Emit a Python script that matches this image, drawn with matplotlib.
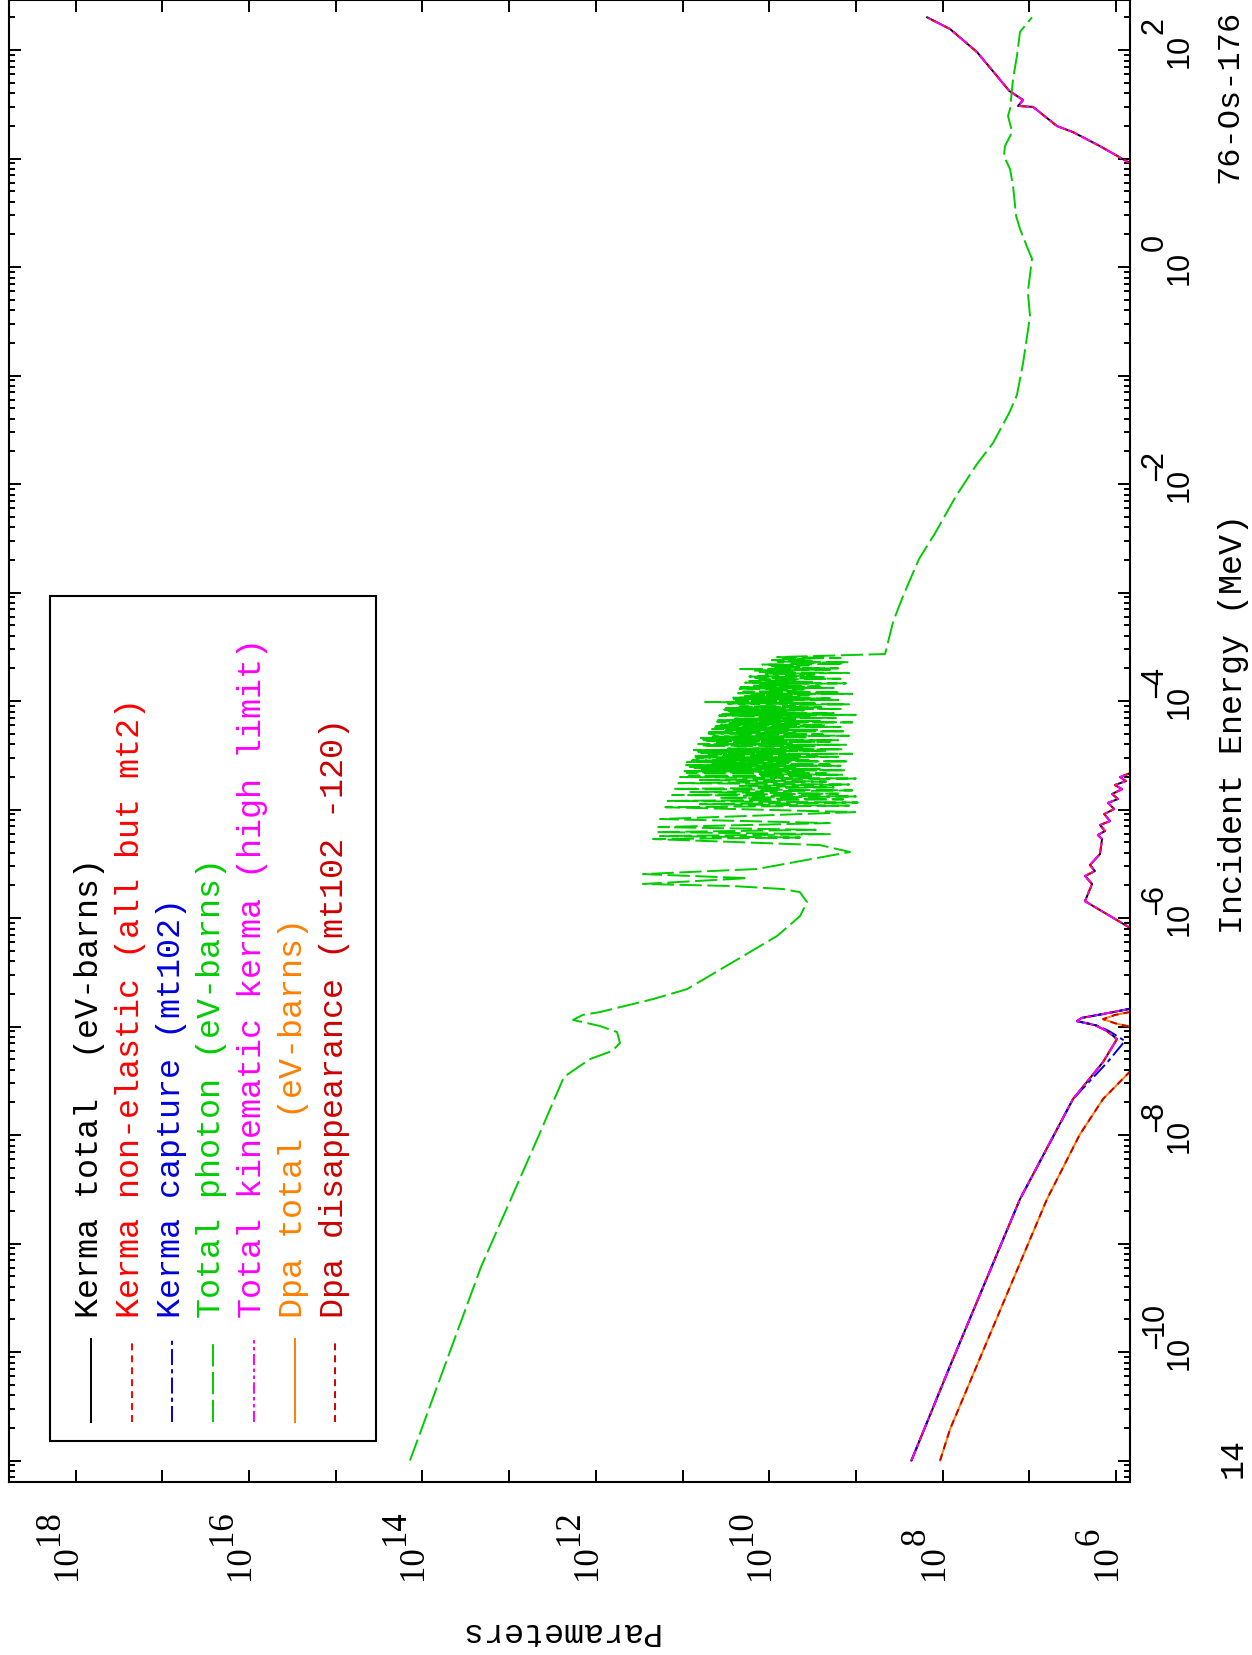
import numpy as np
import matplotlib
matplotlib.use("Agg")
import matplotlib.pyplot as plt
from matplotlib.lines import Line2D
from matplotlib.patches import Rectangle
from matplotlib.ticker import LogLocator, NullLocator

nan = np.nan

# ---- data (energy in MeV, parameter values) ----
kerma_E = [1.0e-11, 7.41e-11, 2.57e-9, 2.15e-8, 4.71e-8, 7.67e-8, 9.08e-8, 1.03e-7,
           1.12e-7, 1.20e-7, 1.32e-7, 1.52e-7, nan,
           7.13e-7, 1.43e-6, 2.06e-6, 2.44e-6, 2.71e-6, 3.08e-6, 3.89e-6, 5.35e-6,
           5.82e-6, 6.34e-6, 7.19e-6, 7.83e-6, 9.08e-6, 1.01e-5, 1.15e-5, 1.25e-5,
           1.39e-5, 1.54e-5, 1.68e-5, 1.83e-5, 1.99e-5, 2.26e-5, nan,
           8.0, 13.0, 17.5, 19.9, 29.9, 30.5, 34.6, 41.9, 57.5, 95.7, 156.0, 200.0]
kerma_total = [2.29e8, 8.22e7, 1.28e7, 3.13e6, 1.41e6, 9.75e5, 1.27e6, 1.75e6,
               2.82e6, 2.5e6, 1.3e6, 5.25e5, nan,
               5.25e5, 2.28e6, 1.89e6, 2.28e6, 1.75e6, 2.0e6, 1.53e6, 1.45e6,
               1.62e6, 1.34e6, 1.53e6, 1.17e6, 1.37e6, 1.05e6, 1.24e6, 9.5e5,
               1.11e6, 8.5e5, 1.03e6, 7.7e5, 9.0e5, 6.0e5, nan,
               5.25e5, 1.53e6, 3.13e6, 4.79e6, 9.06e6, 1.35e7, 1.18e7, 1.70e7,
               2.36e7, 4.01e7, 8.2e7, 1.51e8]

capture_E = [1.0e-11, 7.41e-11, 2.57e-9, 2.15e-8, 4.71e-8, 7.35e-8, 9.08e-8, 1.03e-7,
             1.12e-7, 1.20e-7, 1.32e-7, 1.52e-7]
capture_P = [2.29e8, 8.22e7, 1.28e7, 3.13e6, 1.25e6, 7.9e5, 1.2e6, 1.7e6,
             2.82e6, 2.5e6, 1.3e6, 5.25e5]

dpa_E = [1.0e-11, 1.95e-11, 2.57e-9, 1.02e-8, 2.15e-8, 4.81e-8, nan,
         9.48e-8, 1.07e-7, 1.17e-7, 1.28e-7, 1.42e-7]
dpa_total = [1.07e8, 8.2e7, 6.25e6, 2.6e6, 1.41e6, 5.25e5, nan,
             5.25e5, 1.02e6, 1.41e6, 1.02e6, 5.25e5]

# total photon: thermal part and first big resonances
photon_low_E = [
    1.0e-11, 6.07e-10, 1.0e-8, 3.43e-8, 5.01e-8, 5.94e-8, 7.05e-8, 8.89e-8, 1.01e-7,
    1.15e-7, 1.28e-7, 1.36e-7, 1.79e-7, 2.21e-7, 3.93e-7, 6.82e-7, 1.04e-6, 1.40e-6,
    1.73e-6, 1.85e-6, 1.97e-6, 2.06e-6, 2.33e-6, 2.54e-6, 2.83e-6, 4.06e-6, 4.70e-6,
    5.34e-6, 5.52e-6, 5.69e-6, 5.93e-6, 6.19e-6, 6.5e-6, 6.89e-6, 7.5e-6, 8.17e-6, 9.46e-6]
photon_low_P = [
    1.39e14, 2.11e13, 4.52e12, 2.33e12, 1.17e12, 6.5e11, 5.26e11, 5.69e11, 8.93e11,
    1.83e12, 1.41e12, 8.9e11, 2.19e11, 8.87e10, 2.62e10, 8.13e9, 4.42e9, 3.66e9,
    4.42e9, 6.92e9, 2.62e10, 2.86e11, 1.76e10, 2.86e11, 1.38e10, 1.17e9, 2.6e9,
    2.19e11, 4.4e9, 1.82e11, 2.0e9, 1.95e11, 2.9e9, 1.91e11, 2.0e9, 1.82e11, 1.02e9]

# total photon: dense resolved-resonance forest (peak / valley readings)
photon_res_E = [
    1.05e-5, 1.085e-5, 1.12e-5, 1.16e-5, 1.20e-5, 1.24e-5, 1.28e-5, 1.32e-5,
    1.36e-5, 1.40e-5, 1.45e-5, 1.50e-5, 1.55e-5, 1.60e-5, 1.65e-5, 1.70e-5,
    1.75e-5, 1.81e-5, 1.87e-5, 1.93e-5,
    1.99e-5, 2.02e-5, 2.05e-5, 2.09e-5,
    2.12e-5, 2.15e-5, 2.19e-5, 2.22e-5,
    2.26e-5, 2.30e-5, 2.33e-5, 2.37e-5,
    2.41e-5, 2.45e-5, 2.49e-5, 2.53e-5,
    2.57e-5, 2.61e-5, 2.65e-5, 2.69e-5,
    2.74e-5, 2.78e-5, 2.83e-5, 2.87e-5,
    2.92e-5, 2.97e-5, 3.01e-5, 3.06e-5,
    3.11e-5, 3.16e-5, 3.21e-5, 3.26e-5,
    3.31e-5, 3.36e-5, 3.42e-5, 3.47e-5,
    3.53e-5, 3.59e-5, 3.64e-5, 3.70e-5,
    3.77e-5, 3.83e-5, 3.89e-5, 3.95e-5,
    4.01e-5, 4.07e-5, 4.14e-5, 4.20e-5,
    4.28e-5, 4.35e-5, 4.42e-5, 4.49e-5,
    4.56e-5, 4.63e-5, 4.71e-5, 4.78e-5,
    4.86e-5, 4.94e-5, 5.02e-5, 5.09e-5,
    5.18e-5, 5.26e-5, 5.35e-5, 5.43e-5,
    5.51e-5, 5.60e-5, 5.69e-5, 5.77e-5,
    5.87e-5, 5.96e-5, 6.06e-5, 6.15e-5,
    6.26e-5, 6.36e-5, 6.46e-5, 6.56e-5,
    6.67e-5, 6.78e-5, 6.88e-5, 6.99e-5,
    7.11e-5, 7.22e-5, 7.34e-5, 7.45e-5,
    7.59e-5, 7.71e-5, 7.83e-5, 7.95e-5,
    8.07e-5, 8.20e-5, 8.33e-5, 8.46e-5,
    8.61e-5, 8.75e-5, 8.89e-5, 9.02e-5,
    9.18e-5, 9.33e-5, 9.47e-5, 9.62e-5,
    9.77e-5, 9.93e-5, 1.008e-4, 1.024e-4,
    1.04e-4, 1.057e-4, 1.073e-4, 1.090e-4,
    1.11e-4, 1.128e-4, 1.146e-4, 1.163e-4,
    1.18e-4, 1.199e-4, 1.218e-4, 1.237e-4,
    1.26e-4, 1.280e-4, 1.300e-4, 1.320e-4,
    1.34e-4, 1.361e-4, 1.383e-4, 1.404e-4,
    1.43e-4, 1.453e-4, 1.476e-4, 1.499e-4,
    1.53e-4, 1.554e-4, 1.579e-4, 1.603e-4,
    1.63e-4, 1.656e-4, 1.682e-4, 1.708e-4,
    1.73e-4, 1.758e-4, 1.785e-4, 1.813e-4,
    1.85e-4, 1.880e-4, 1.909e-4, 1.939e-4,
    1.97e-4, 2.002e-4, 2.033e-4, 2.065e-4,
    2.10e-4, 2.134e-4, 2.167e-4, 2.201e-4,
    2.24e-4, 2.276e-4, 2.312e-4, 2.348e-4,
    2.38e-4, 2.418e-4, 2.456e-4, 2.494e-4,
    2.54e-4]
photon_res_P = [
    1.58e11, 1.2e9, 6.31e10, 9.5e8, 1.48e11, 1.4e9, 3.72e10, 1.0e9,
    1.32e11, 1.6e9, 8.13e10, 1.1e9, 1.29e11, 1.8e9, 2.19e10, 1.2e9,
    1.12e11, 2.2e9, 6.31e10, 1.0e9,
    1.07e11, 3.0e9, 8.5e10, 1.4e9,
    1.29e10, 2.2e9, 9.0e10, 4.0e9,
    9.77e10, 1.3e9, 6.0e10, 2.6e9,
    7.24e10, 5.0e9, 8.3e10, 1.5e9,
    9.12e10, 2.0e9, 4.5e10, 6.0e9,
    8.91e10, 1.2e9, 7.8e10, 3.5e9,
    3.72e10, 4.5e9, 7.0e10, 1.6e9,
    7.76e10, 2.8e9, 5.0e10, 1.1e9,
    6.31e10, 6.5e9, 6.6e10, 2.2e9,
    7.41e10, 1.4e9, 3.0e10, 4.2e9,
    7.41e9, 3.0e9, 6.0e10, 1.3e9,
    6.61e10, 5.5e9, 4.0e10, 2.0e9,
    5.50e10, 1.6e9, 5.8e10, 7.0e9,
    6.17e10, 3.8e9, 4.5e10, 1.2e9,
    2.19e10, 2.4e9, 5.0e10, 5.0e9,
    5.37e10, 1.3e9, 3.2e10, 2.8e9,
    4.57e10, 6.0e9, 4.2e10, 1.5e9,
    4.47e10, 2.2e9, 3.6e10, 4.5e9,
    2.82e10, 1.1e9, 4.0e10, 2.6e9,
    3.89e10, 5.0e9, 2.5e10, 1.7e9,
    1.29e10, 3.2e9, 3.8e10, 1.0e9,
    3.47e10, 1.8e9, 2.8e10, 6.0e9,
    2.95e10, 4.0e9, 3.3e10, 1.4e9,
    3.16e10, 2.5e9, 2.2e10, 5.0e9,
    5.75e9, 1.2e9, 3.0e10, 3.0e9,
    5.50e10, 5.5e9, 2.4e10, 1.6e9,
    2.63e10, 2.0e9, 2.6e10, 4.5e9,
    1.91e10, 3.5e9, 1.6e10, 1.1e9,
    2.29e10, 1.5e9, 2.0e10, 5.0e9,
    9.77e9, 4.0e9, 2.2e10, 1.8e9,
    2.14e10, 2.6e9, 1.5e10, 6.0e9,
    1.29e10, 1.3e9, 1.9e10, 3.2e9,
    1.70e10, 5.0e9, 1.3e10, 1.5e9,
    1.45e10, 2.2e9, 1.7e10, 4.0e9,
    4.37e9, 3.0e9, 1.1e10, 1.2e9,
    1.29e10, 5.5e9, 1.5e10, 2.0e9,
    2.34e10, 1.6e9, 9.0e9, 4.5e9,
    1.02e10, 3.5e9, 1.2e10, 1.4e9,
    5.75e9, 1.2e9, 8.0e9, 3.0e9,
    9.33e9, 4.0e9, 7.0e9, 1.5e9,
    8.13e9]

# total photon: smooth part above the resonance region
photon_high_E = [
    2.71e-4, 5.35e-4, 9.29e-4, 2.04e-3, 3.53e-3, 7.74e-3, 1.53e-2, 2.39e-2, 4.51e-2,
    6.61e-2, 0.130, 0.353, 0.589, 1.19, 1.47, 2.24, 2.95, 5.58, 8.0, 10.5, 13.0,
    17.5, 24.7, 28.6, 54.1, 88.1, 147.0, 200.0]
photon_high_P = [
    4.61e8, 3.73e8, 2.86e8, 1.87e8, 1.22e8, 7.01e7, 4.01e7, 2.62e7, 1.71e7,
    1.39e7, 1.18e7, 9.82e6, 1.04e7, 9.31e6, 1.04e7, 1.28e7, 1.42e7, 1.54e7, 1.67e7,
    1.96e7, 1.91e7, 1.58e7, 1.76e7, 1.67e7, 1.54e7, 1.39e7, 1.28e7, 9.31e6]

photon_E = photon_low_E + photon_res_E + photon_high_E
photon_total = photon_low_P + photon_res_P + photon_high_P

param_exponents = [18, 16, 14, 12, 10, 8, 6]
energy_exponents = [2, 0, -2, -4, -6, -8, -10]

legend_labels = ["Kerma total  (eV-barns)",
                 "Kerma non-elastic (all but mt2)",
                 "Kerma capture (mt102)",
                 "Total photon (eV-barns)",
                 "Total kinematic kerma (high limit)",
                 "Dpa total (eV-barns)",
                 "Dpa disappearance (mt102 -120)"]
colors = ["#000000", "#ff0000", "#0000dd", "#00cc00", "#ff00ff", "#ff8000", "#cc0000"]
dash_styles = [None, (5, 3.6), (11.5, 3, 3, 3), (16, 4), (8, 2.5, 2.5, 2.5, 2.5, 2.5),
               None, (5, 3.6)]

# ---- figure (landscape plot drawn turned 90 degrees) ----
W, H = 1252, 1656
plt.rcParams['lines.scale_dashes'] = False
MONO = 'Liberation Mono'
SERIF = 'Liberation Serif'
SANS = 'Liberation Sans'

fig = plt.figure(figsize=(W / 100, H / 100), dpi=100)
ax = fig.add_axes([9 / W, 1 - 1483 / H, 1121 / W, 1482 / H])
ax.set_xscale('log')
ax.set_yscale('log')
ax.set_xlim(5.86e18, 6.9e5)
ax.set_ylim(6.34e-12, 2.89e2)

series = [(kerma_total, kerma_E), (kerma_total, kerma_E), (capture_P, capture_E),
          (photon_total, photon_E), (kerma_total, kerma_E), (dpa_total, dpa_E),
          (dpa_total, dpa_E)]
for (p, e), c, d in zip(series, colors, dash_styles):
    line, = ax.plot(p, e, color=c, lw=1.4)
    if d is not None:
        line.set_dashes(d)

ax.xaxis.set_major_locator(LogLocator(base=10, numticks=60))
ax.xaxis.set_minor_locator(NullLocator())
ax.yaxis.set_major_locator(LogLocator(base=10, numticks=60))
ax.yaxis.set_minor_locator(LogLocator(base=10, subs=np.arange(2, 10), numticks=60))
ax.tick_params(which='both', direction='in', top=True, right=True,
               labelbottom=False, labelleft=False, width=1.4)
ax.tick_params(which='major', length=8.6)
ax.tick_params(which='minor', length=4.3)
for s in ax.spines.values():
    s.set_linewidth(1.5)


def fx(x):
    return x / W


def fy(y):
    return 1 - y / H


def vtext(x, y, s, size, color='black', family=MONO, ha='left'):
    fig.text(fx(x), fy(y), s, rotation=90, rotation_mode='anchor', ha=ha,
             va='baseline', fontsize=size, color=color, family=family)


def to_px(p, e):
    dx, dy = ax.transData.transform((p, e))
    return dx, H - dy


# parameter tick labels (below frame)
for n in param_exponents:
    tx, _ = to_px(10.0 ** n, 1.0)
    vtext(tx, 1580, "10", 25, family=SERIF)
    vtext(tx - 18, 1545, str(n), 25, family=SERIF)

# energy tick labels (right of frame)
for n in energy_exponents:
    _, ty = to_px(1e10, 10.0 ** n)
    vtext(1188, ty + 17, "10", 22, family=SANS)
    vtext(1163, ty - 17, str(abs(n)), 22, family=SANS)
    if n < 0:
        fig.add_artist(Line2D([fx(1156), fx(1156)], [fy(ty - 17), fy(ty - 4)],
                              color='black', lw=1.6, transform=fig.transFigure))

vtext(1242, 724, "Incident Energy (MeV)", 24, ha='center')
vtext(1237, 183, "76-Os-176", 23)
vtext(1242, 1478, "14", 24)
fig.text(fx(558), fy(1632), "Parameters", rotation=180, rotation_mode='anchor',
         ha='center', va='center', fontsize=24, family=MONO)

# legend box, drawn by hand since the whole page is turned
fig.add_artist(Rectangle((fx(50), fy(1442)), fx(376) - fx(50), fy(597) - fy(1442),
                         fill=False, lw=1.5, ec='black', transform=fig.transFigure))
for i, (lab, c, d) in enumerate(zip(legend_labels, colors, dash_styles)):
    lx = 91 + 40.7 * i
    ln = Line2D([fx(lx), fx(lx)], [fy(1423), fy(1340)], color=c, lw=1.4,
                transform=fig.transFigure)
    if d is not None:
        ln.set_dashes(d)
    fig.add_artist(ln)
    vtext(98 + 40.8 * i, 1318, lab, 24, color=c)

fig.savefig("out.png", dpi=100)
